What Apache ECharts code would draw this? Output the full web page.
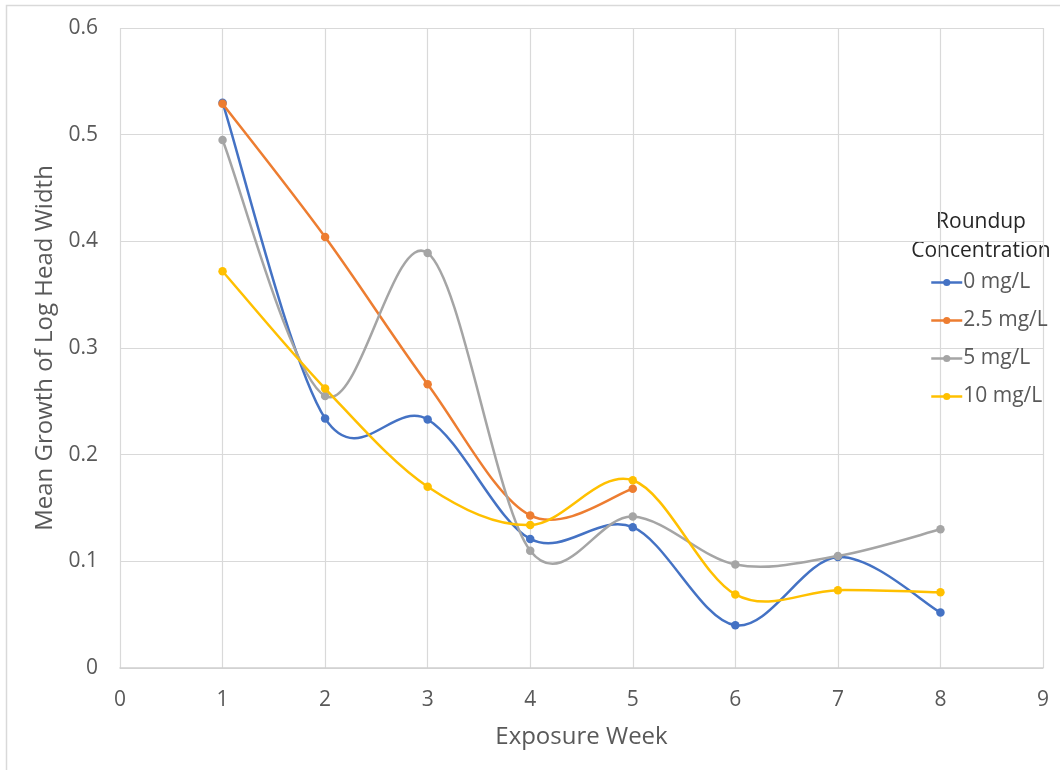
<!DOCTYPE html>
<html>
<head>
<meta charset="utf-8">
<script src="https://cdn.jsdelivr.net/npm/echarts@6/dist/echarts.min.js"></script>
<style>
  html, body { margin: 0; padding: 0; background: #fff; }
  #chart { width: 1060px; height: 770px; }
</style>
</head>
<body>
<div id="chart"></div>
<script>
// Mean growth of log head width by exposure week, per Roundup concentration
const weeks = [1, 2, 3, 4, 5, 6, 7, 8];
const seriesNames = ['0 mg/L', '2.5 mg/L', '5 mg/L', '10 mg/L'];
const growth0 = [0.530, 0.234, 0.233, 0.121, 0.132, 0.040, 0.104, 0.052];
const growth25 = [0.529, 0.404, 0.266, 0.143, 0.168];
const growth5 = [0.495, 0.255, 0.389, 0.110, 0.142, 0.097, 0.105, 0.130];
const growth10 = [0.372, 0.262, 0.170, 0.134, 0.176, 0.069, 0.073, 0.071];
const xTicks = ['0', '1', '2', '3', '4', '5', '6', '7', '8', '9'];
const yTicks = ['0', '0.1', '0.2', '0.3', '0.4', '0.5', '0.6'];
const legendTitle = 'Roundup\nConcentration';
const xTitle = 'Exposure Week';
const yTitle = 'Mean Growth of Log Head Width';
const colors = ['#4472C4', '#ED7D31', '#A5A5A5', '#FFC000'];

const FONT = '"Open Sans", "Noto Sans", sans-serif';
const LINE_W = 2.5;

const allValues = [growth0, growth25, growth5, growth10];

function pairs(values) {
  return values.map((v, i) => [weeks[i], v]);
}

// Smooth curve segment between consecutive points (cardinal spline, tension 1/6),
// positioned through the axes with api.coord.
function curveRenderer(values, color) {
  return function (params, api) {
    const i = params.dataIndex;
    const n = values.length;
    if (i >= n - 1) return null;
    const pt = k => api.coord([weeks[k], values[k]]);
    const p1 = pt(i);
    const p2 = pt(i + 1);
    const p0 = i > 0 ? pt(i - 1) : p1;
    const p3 = i + 2 < n ? pt(i + 2) : p2;
    return {
      type: 'bezierCurve',
      shape: {
        x1: p1[0], y1: p1[1],
        x2: p2[0], y2: p2[1],
        cpx1: p1[0] + (p2[0] - p0[0]) / 6,
        cpy1: p1[1] + (p2[1] - p0[1]) / 6,
        cpx2: p2[0] - (p3[0] - p1[0]) / 6,
        cpy2: p2[1] - (p3[1] - p1[1]) / 6
      },
      style: { stroke: color, lineWidth: LINE_W, fill: null, lineCap: 'round' },
      silent: true
    };
  };
}

const curveSeries = seriesNames.map((name, i) => ({
  name: name + ' curve',
  type: 'custom',
  data: pairs(allValues[i]),
  encode: { x: 0, y: 1 },
  renderItem: curveRenderer(allValues[i], colors[i]),
  clip: false,
  z: 2 + i * 2
}));

const markerSeries = seriesNames.map((name, i) => ({
  name: name,
  type: 'line',
  data: pairs(allValues[i]),
  symbol: 'circle',
  symbolSize: 8.5,
  showSymbol: true,
  lineStyle: { width: LINE_W, color: colors[i], opacity: 0 },
  itemStyle: { color: colors[i] },
  z: 3 + i * 2
}));

const chart = echarts.init(document.getElementById('chart'), null, { renderer: 'canvas' });

chart.setOption({
  animation: false,
  backgroundColor: '#ffffff',
  color: colors,
  textStyle: { fontFamily: FONT },
  grid: { left: 120, right: 17, top: 28, bottom: 102, containLabel: false },
  graphic: [
    {
      type: 'rect',
      shape: { x: 6.5, y: 5.5, width: 1100, height: 800 },
      style: { fill: 'none', stroke: '#d9d9d9', lineWidth: 1.5 },
      silent: true
    },
    {
      type: 'text',
      x: 981,
      y: 208,
      style: {
        text: legendTitle,
        fill: '#262626',
        font: '21px ' + FONT,
        align: 'center',
        lineHeight: 29
      }
    }
  ],
  legend: {
    orient: 'vertical',
    left: 925,
    top: 267,
    itemWidth: 31,
    itemHeight: 9,
    itemGap: 17,
    lineStyle: { width: LINE_W, opacity: 1 },
    textStyle: { color: '#595959', fontSize: 21, fontFamily: FONT, padding: [0, 0, 0, -4] },
    data: seriesNames
  },
  xAxis: {
    type: 'value',
    min: 0,
    max: 9,
    interval: 1,
    name: xTitle,
    nameLocation: 'middle',
    nameGap: 57,
    nameTextStyle: { color: '#595959', fontSize: 24, fontFamily: FONT },
    axisLine: { show: true, lineStyle: { color: '#d0d0d0', width: 1.5 } },
    axisTick: { show: false },
    axisLabel: {
      color: '#595959', fontSize: 21, margin: 22, fontFamily: FONT,
      formatter: v => xTicks[Math.round(v)]
    },
    splitLine: { show: true, lineStyle: { color: '#d9d9d9', width: 1.2 } }
  },
  yAxis: {
    type: 'value',
    min: 0,
    max: 0.6,
    interval: 0.1,
    name: yTitle,
    nameLocation: 'middle',
    nameGap: 62,
    nameTextStyle: { color: '#595959', fontSize: 24, fontFamily: FONT },
    axisLine: { show: false },
    axisTick: { show: false },
    axisLabel: {
      color: '#595959', fontSize: 21, margin: 22, fontFamily: FONT,
      formatter: v => yTicks[Math.round(v * 10)]
    },
    splitLine: { show: true, lineStyle: { color: '#d9d9d9', width: 1.2 } }
  },
  series: curveSeries.concat(markerSeries)
});
</script>
</body>
</html>
